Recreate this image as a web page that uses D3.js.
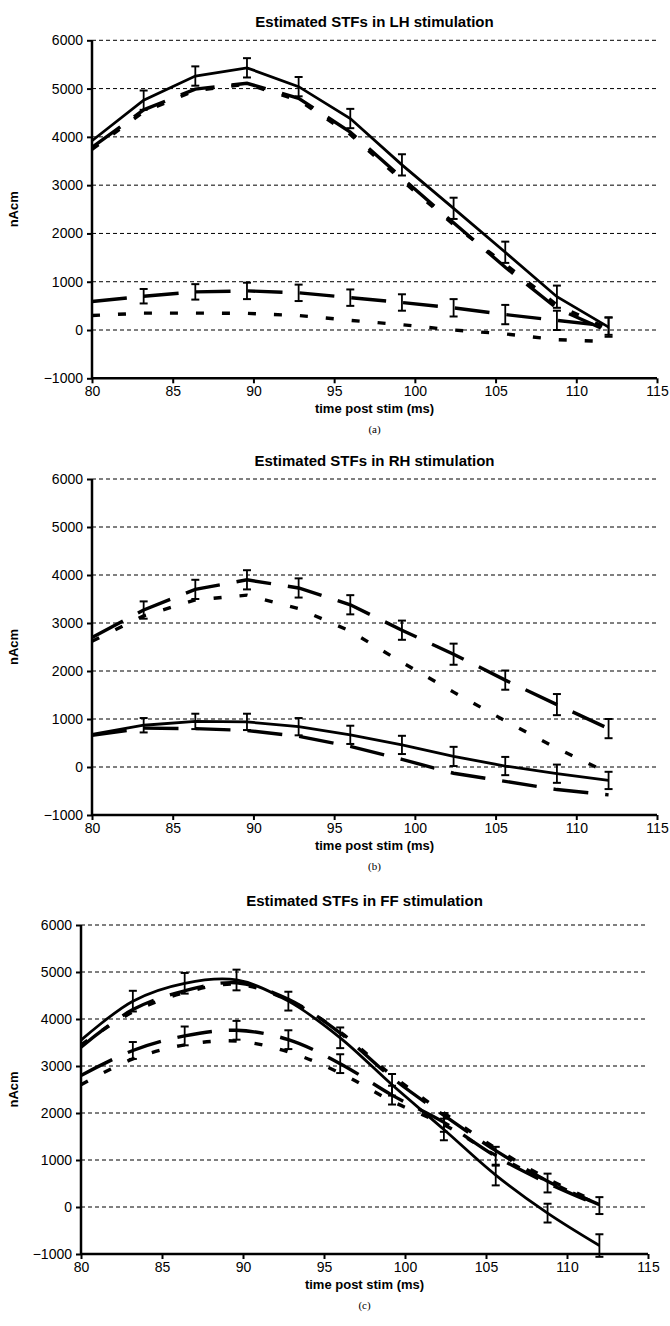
<!DOCTYPE html>
<html>
<head>
<meta charset="utf-8">
<script src="https://cdn.jsdelivr.net/npm/d3@7.9.0/dist/d3.min.js"></script>
<style>
  body { margin: 0; background: #fff; }
  svg { display: block; }
  text { font-family: "Liberation Sans", Arial, sans-serif; fill: #000; }
</style>
</head>
<body>
<svg id="chart" width="670" height="1326"></svg>
<script>
// shared axes
const xTicks = [80, 85, 90, 95, 100, 105, 110, 115];
const yTicks = [-1000, 0, 1000, 2000, 3000, 4000, 5000, 6000];
const times = [80, 83.2, 86.4, 89.6, 92.8, 96, 99.2, 102.4, 105.6, 108.8, 112];

// (a) LH stimulation
const aSolid     = [3920, 4760, 5260, 5430, 5040, 4380, 3420, 2520, 1610, 690, 60];
const aSolidErr  = [200, 200, 200, 200, 200, 200, 220, 220, 220, 230, 200];
const aLongHi    = [3780, 4560, 4990, 5110, 4800, 4100, 3150, 2220, 1300, 450, -30];
const aShortHi   = [3740, 4520, 4960, 5090, 4760, 4050, 3100, 2180, 1360, 520, 20];
const aLongEB    = [590, 700, 790, 810, 770, 670, 570, 460, 320, 200, 80];
const aLongEBErr = [160, 150, 160, 170, 170, 170, 170, 180, 200, 200, 180];
const aShortLo   = [300, 350, 350, 345, 300, 200, 110, 0, -80, -200, -240];

// (b) RH stimulation
const bLongEB    = [2700, 3270, 3700, 3900, 3730, 3380, 2850, 2350, 1810, 1300, 800];
const bLongEBErr = [200, 180, 200, 200, 200, 200, 200, 220, 200, 220, 200];
const bShortHi   = [2620, 3150, 3480, 3580, 3300, 2830, 2180, 1560, 960, 390, -130];
const bSolid     = [680, 870, 950, 940, 840, 670, 460, 220, 20, -140, -280];
const bSolidErr  = [150, 150, 160, 170, 180, 190, 190, 200, 190, 190, 180];
const bLongLo    = [660, 810, 800, 760, 640, 430, 160, -130, -300, -470, -580];

// (c) FF stimulation
const cSolid     = [3550, 4380, 4760, 4830, 4380, 3600, 2600, 1650, 680, -130, -820];
const cSolidErr  = [220, 220, 220, 220, 200, 220, 230, 230, 220, 200, 240];
const cLongHi    = [3400, 4200, 4600, 4770, 4420, 3700, 2750, 1950, 1200, 550, 50];
const cShortHi   = [3450, 4150, 4560, 4740, 4400, 3720, 2800, 2000, 1250, 600, 80];
const cLongEB    = [2800, 3330, 3640, 3760, 3560, 3050, 2380, 1800, 1080, 510, 30];
const cLongEBErr = [200, 180, 200, 200, 200, 200, 200, 200, 200, 200, 180];
const cShortLo   = [2600, 3150, 3450, 3530, 3300, 2850, 2250, 1750, 1100, 550, 50];

const dashes = { solid: null, long: '35,17', short: '8,18' };

const panels = [
  {
    title: 'Estimated STFs in LH stimulation', tag: '(a)',
    left: 92, right: 657, top: 40.3, bottom: 378.3, titleY: 27, curve: d3.curveLinear,
    series: [
      { v: aShortLo, style: 'short' },
      { v: aLongEB, err: aLongEBErr, style: 'long' },
      { v: aShortHi, style: 'short' },
      { v: aLongHi, style: 'long' },
      { v: aSolid, err: aSolidErr, style: 'solid' }
    ]
  },
  {
    title: 'Estimated STFs in RH stimulation', tag: '(b)',
    left: 92, right: 657, top: 479, bottom: 815, titleY: 466, curve: d3.curveLinear,
    series: [
      { v: bShortHi, style: 'short' },
      { v: bLongEB, err: bLongEBErr, style: 'long' },
      { v: bLongLo, style: 'long' },
      { v: bSolid, err: bSolidErr, style: 'solid' }
    ]
  },
  {
    title: 'Estimated STFs in FF stimulation', tag: '(c)',
    left: 81, right: 648, top: 925, bottom: 1254, titleY: 906, curve: d3.curveCatmullRom,
    series: [
      { v: cShortLo, style: 'short' },
      { v: cLongEB, err: cLongEBErr, style: 'long' },
      { v: cShortHi, style: 'short' },
      { v: cLongHi, style: 'long' },
      { v: cSolid, err: cSolidErr, style: 'solid' }
    ]
  }
];

const svg = d3.select('#chart');

panels.forEach(p => {
  const g = svg.append('g');
  const x = d3.scaleLinear().domain([80, 115]).range([p.left, p.right]);
  const y = d3.scaleLinear().domain([-1000, 6000]).range([p.bottom, p.top]);

  // dashed gridlines
  g.append('g')
    .selectAll('line')
    .data(yTicks.filter(t => t > -1000))
    .join('line')
    .attr('x1', p.left).attr('x2', p.right)
    .attr('y1', d => y(d)).attr('y2', d => y(d))
    .attr('stroke', '#000').attr('stroke-width', 1)
    .attr('stroke-dasharray', '4,3');

  // axes
  const yAxis = g.append('g')
    .attr('transform', `translate(${p.left},0)`)
    .call(d3.axisLeft(y).tickValues(yTicks).tickSize(5).tickPadding(4).tickFormat(d3.format('d')));
  const xAxis = g.append('g')
    .attr('transform', `translate(0,${p.bottom})`)
    .call(d3.axisBottom(x).tickValues(xTicks).tickSize(5).tickPadding(3).tickFormat(d3.format('d')));
  [yAxis, xAxis].forEach(a => {
    a.select('.domain').attr('stroke-width', 2.5);
    a.selectAll('.tick line').attr('stroke-width', 2);
    a.selectAll('text').style('font-size', '14px').attr('font-family', 'Liberation Sans, Arial, sans-serif');
  });
  xAxis.select('.domain').attr('d', `M${p.left},0H${p.right}`);
  yAxis.select('.domain').attr('d', `M0,${p.top}V${p.bottom}`);

  // series
  const line = d3.line()
    .x((d, i) => x(times[i]))
    .y(d => y(d))
    .curve(p.curve);

  p.series.forEach(s => {
    g.append('path')
      .datum(s.v)
      .attr('d', line)
      .attr('fill', 'none')
      .attr('stroke', '#000')
      .attr('stroke-width', s.style === 'solid' ? 2.8 : 3.4)
      .attr('stroke-dasharray', dashes[s.style]);

    if (s.err) {
      const eb = g.append('g').selectAll('g')
        .data(s.v.map((v, i) => ({ t: times[i], v, e: s.err[i] })).filter(d => d.t > 80))
        .join('g');
      eb.append('line')
        .attr('x1', d => x(d.t)).attr('x2', d => x(d.t))
        .attr('y1', d => y(d.v - d.e)).attr('y2', d => y(d.v + d.e))
        .attr('stroke', '#000').attr('stroke-width', 1.8);
      [1, -1].forEach(sign => {
        eb.append('line')
          .attr('x1', d => x(d.t) - 4).attr('x2', d => x(d.t) + 4)
          .attr('y1', d => y(d.v + sign * d.e)).attr('y2', d => y(d.v + sign * d.e))
          .attr('stroke', '#000').attr('stroke-width', 2);
      });
    }
  });

  // titles
  const cx = (p.left + p.right) / 2;
  g.append('text')
    .attr('x', cx).attr('y', p.titleY)
    .attr('text-anchor', 'middle')
    .style('font-size', '15px').style('font-weight', 'bold')
    .text(p.title);
  g.append('text')
    .attr('x', cx).attr('y', p.bottom + 35)
    .attr('text-anchor', 'middle')
    .style('font-size', '13px').style('font-weight', 'bold')
    .text('time post stim (ms)');
  g.append('text')
    .attr('transform', `translate(18,${(p.top + p.bottom) / 2}) rotate(-90)`)
    .attr('text-anchor', 'middle')
    .style('font-size', '13px').style('font-weight', 'bold')
    .text('nAcm');
  g.append('text')
    .attr('x', cx).attr('y', p.bottom + 55)
    .attr('text-anchor', 'middle')
    .style('font-family', '"Liberation Serif", "Times New Roman", serif')
    .style('font-size', '11px')
    .text(p.tag);
});
</script>
</body>
</html>
